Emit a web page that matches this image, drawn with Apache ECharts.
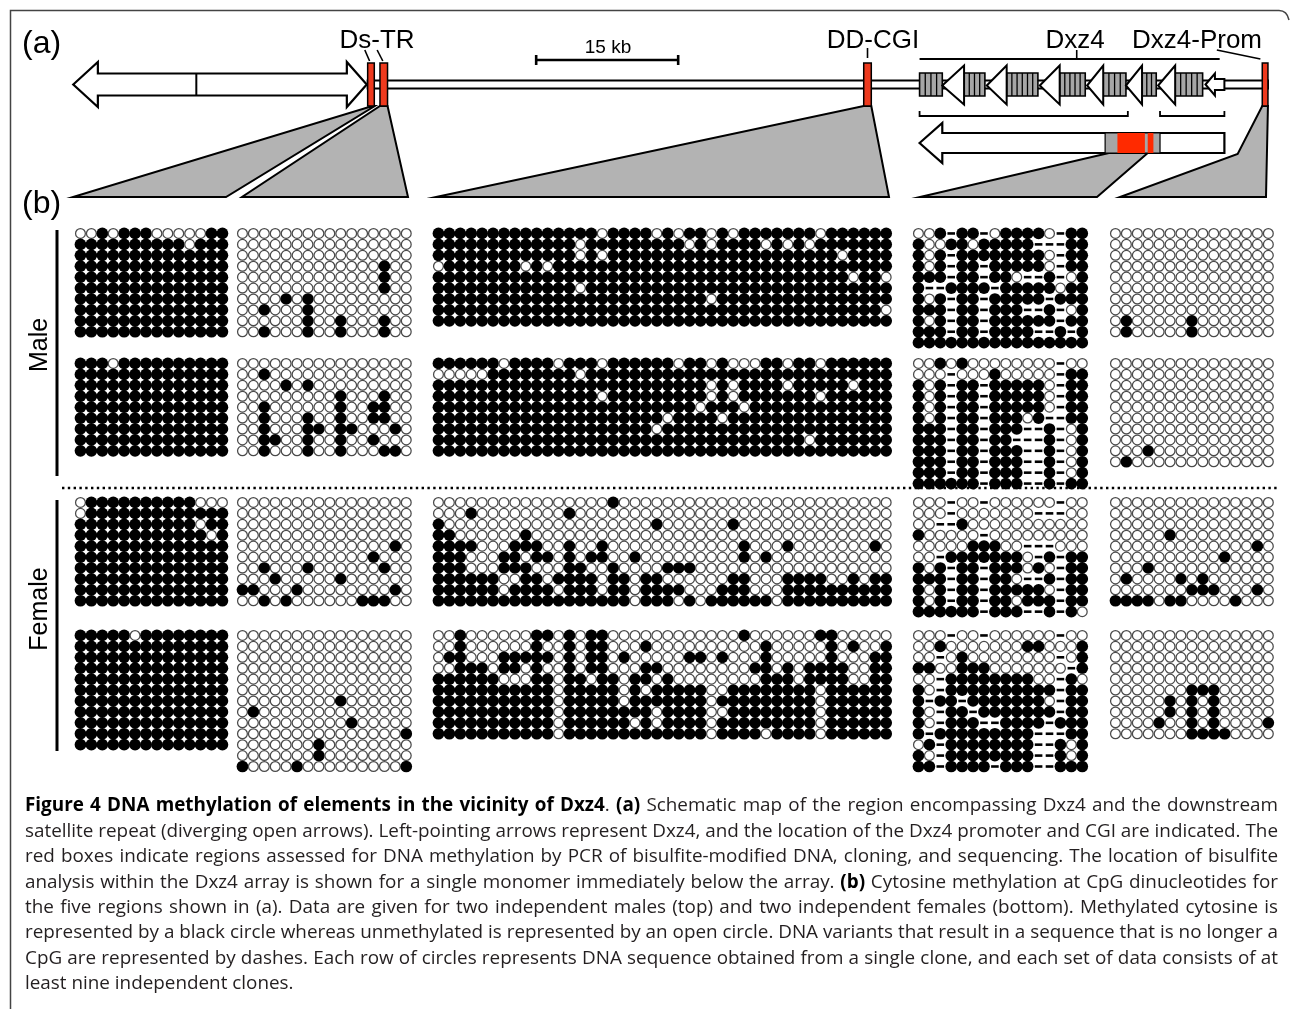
<!DOCTYPE html>
<html>
<head>
<meta charset="utf-8">
<title>Figure 4 DNA methylation of elements in the vicinity of Dxz4</title>
<script src="https://cdn.jsdelivr.net/npm/echarts@6/dist/echarts.min.js"></script>
<style>
html,body{margin:0;padding:0;background:#fff;}
#main{width:1290px;height:1009px;}
</style>
</head>
<body>
<div id="main"></div>
<script>
// ================= DATA =================
// Methylation grids: '1' = methylated CpG (black), '0' = unmethylated (open), '-' = no longer CpG (dash)
// Each region: [male 1, male 2, female 1, female 2]; spaces are only for readability.

const dsTR1 = [
  ["00101110000011","11111111110111","11111111111111","11111111111111","11111111111111",
   "11111111111111","11111111111111","11111111111111","11111111111111","11111111111111"],
  ["11101111111111","11111111111111","11111111111111","11111111111111","11111111111111",
   "11111111111111","11111111111111","11111111111111","11111111111111"],
  ["01111111111000","01111111111111","11111111111011","11111111111101","11111111111111",
   "11111111111111","11111111111111","11111111111111","11111111111111","11111111111111"],
  ["11111011111111","11111111111111","11111111111111","11111111111111","11111111111111",
   "11111111111111","11111111111111","11111111111111","11111111111111","11111111111111",
   "11111111111111"]
];

const dsTR2 = [
  ["0000000000000000","0000000000000000","0000000000000000","0000000000000100","0000000000000100",
   "0000000000000100","0000101000000000","0010001000000000","0000001001000100","0010001001000100"],
  ["0000000000000000","0010000000000000","0000101000000000","0000000001000100","0010000001001100",
   "0010001001001100","0010001101100010","0011001001001000","0010001001000110"],
  ["0000000000000000","0000000000000000","0000000000000000","0000000000000000","0000000000000010",
   "0000000000001000","0010001000000100","0001000001000000","1100010000000010","0010100000011100"],
  ["0000000000000000","0000000000000000","0000000000000000","0000000000000000","0000000000000000",
   "0000000000000000","0000000001000000","0100000000000000","0000000000100000","0000000000000001",
   "0000000100000000","0000000100000000","1000010000000001"]
];

const ddCGI = [
  ["111111 111111 111011 110101 101011 111110 111111",
   "111111 111111 101111 111110 101111 010101 111111",
   "111111 111111 101011 111111 111111 111111 101111",
   "011111 110101 111111 111111 111111 111111 111111",
   "111111 111111 111111 111111 111111 111111 110110",
   "111111 111111 101111 111111 111111 111111 111111",
   "111111 111111 111111 111111 101111 111111 111111",
   "111111 111111 111111 111111 111111 111111 111110",
   "111111 111111 111111 111111 111111 111111 111111"],
  ["111111 011110 111011 111101 101000 110110 111111",
   "000001 111111 101111 111111 111111 111111 111111",
   "111111 111111 111111 111111 101011 110111 110111",
   "111111 111111 111011 111111 101011 111110 111111",
   "111111 111111 111111 111111 011101 111111 111111",
   "111111 111111 111111 111011 110111 111111 111111",
   "111111 111111 111111 110111 111111 111111 111111",
   "111111 111111 111111 111111 111111 111101 111111",
   "111111 111111 111111 111111 111111 111111 111111"],
  ["000000 000000 000010 000000 000000 000000 000000",
   "000100 000000 100000 000000 000000 000000 000000",
   "100000 000000 000000 001000 000100 000000 000000",
   "110000 001000 000000 000000 000000 000000 000000",
   "111100 011100 100100 000000 000010 001000 000010",
   "111000 110110 101100 100000 000010 100000 000000",
   "111000 111000 110010 000111 000000 000000 000000",
   "111111 001101 111011 011000 000110 001111 001011",
   "111111 011110 111011 011110 001110 001111 111111",
   "111111 111111 111111 011101 011111 101111 111111"],
  ["001000 000110 101100 000000 000010 000001 100000",
   "001000 000100 101100 010000 000000 100000 101001",
   "011000 111110 101101 000001 101000 100000 100011",
   "001110 110100 101100 011000 000001 101011 110011",
   "111111 000110 110110 110100 000000 111011 110011",
   "111111 111110 111110 101111 100111 111110 111111",
   "111111 111110 111110 111111 101111 111110 111111",
   "111111 111110 111111 110111 100111 111110 111111",
   "111111 111110 111111 010111 101111 111110 111111",
   "111111 111110 111111 111111 101111 011110 111111"]
];

const dxz4Monomer = [
  ["001-11-011110-11","10011011111---11","101-111111110-11","101-11-111110-11","111-11-110--1-01",
   "1--1111-11111011","101-11-11111-111","111-11-111--1-01","101-11-111111-11","111-11-1111--1-1",
   "1111111111111111"],
  ["0010100000000-00","000-000100000-11","101-11-111110-11","101-11-111110-11","101-11-111110-11",
   "101-11-11101--11","111-11-111--1-01","111-11-11---1-01","111-11-111--1-01","111-11-111--1-01",
   "111-11-111--1-01","111111-111--1-11"],
  ["000-00-000000-00","000-0000000---00","00--100000000000","100000-000000000","0000011100---000",
   "00-11111110-1-11","101-11-111010-11","111-11-110--1-11","101-11-111110-11","101-11-110111-11",
   "111111-111--1-10"],
  ["000-00-000000-00","0010000000110001","00-0100000000-01","11001110000000-1","00-1111111100-10",
   "10-1111111111-11","1-11-11111110-11","10-11-1111111-11","10-111--1111-111","1-111111111---11",
   "01-11111111--101","10-11111111--101","11-1111-111--111"]
];

const dxz4Prom = [
  ["000000000000000","000000000000000","000000000000000","000000000000000","000000000000000",
   "000000000000000","000000000000000","000000000000000","010000010000000","010000010000000"],
  ["000000000000000","000000000000000","000000000000000","000000000000000","000000000000000",
   "000000000000000","000000000000000","000000000000000","000100000000000","010000000000000"],
  ["000000000000000","000000000000000","000000000000000","000001000000000","000000000000010",
   "000000000010000","000100000000000","010000101000000","000000011100010","111101100001000"],
  ["000000000000000","000000000000000","000000000000000","000000000000000","000000000000000",
   "000000011100000","000001010100000","000001010100000","000010010100001","000000011110000"]
];

const regions = [dsTR1, dsTR2, ddCGI, dxz4Monomer, dxz4Prom];
const sampleNames = ["Male", "Male", "Female", "Female"];

// Panel (a) map, positions in kb along the locus (scale bar = 15 kb)
const scaleBarStart = 50.3, scaleBarKb = 15;
const satelliteArrows = { tipL: 1.4, headL: 4.0, divider: 14.4, headR: 30.3, tipR: 32.4 };
const redBoxes = [[32.5, 33.2], [33.8, 34.6], [84.9, 85.7], [127.0, 127.6]];  // Ds-TR (x2), DD-CGI, Dxz4-Prom
const mapLineKb = [32.5, 127.6];
const dxz4Boxes = [[90.8, 93.2], [95.5, 97.7], [100.0, 103.3], [105.6, 108.3], [110.2, 112.6], [114.3, 115.8], [117.8, 120.7]];
const dxz4Heads = [[93.2, 95.5], [97.9, 100.0], [103.5, 105.6], [108.5, 110.2], [112.6, 114.3], [116.0, 117.8]];
const dxz4Stub = [121.0, 122.0, 123.0];
const dxz4Span = [90.8, 122.5], dxz4LabelKb = 107.4;
const monomerArrow = { tip: 90.8, headBase: 93.2, end: 123.0 };
const monomerGrey = [110.4, 116.2];
const monomerRed = [[111.7, 114.6], [114.9, 115.5]];
const monomerBrackets = [[90.8, 112.8], [116.2, 123.0]];
const wedges = [
  { from: [33.0, 33.25], fromY: 106, to: [73, 226] },
  { from: [33.8, 34.6], fromY: 106, to: [242, 408] },
  { from: [84.9, 85.7], fromY: 106, to: [436, 889] },
  { from: [110.8, 114.9], fromY: 153, to: [920, 1097] },
  { from: [127.0, 127.6], fromY: 106, to: [1120, 1266], bend: [124.4, 154] }
];

const captionLines = [
  "**Figure 4 DNA methylation of elements in the vicinity of Dxz4**. **(a)** Schematic map of the region encompassing Dxz4 and the downstream",
  "satellite repeat (diverging open arrows). Left-pointing arrows represent Dxz4, and the location of the Dxz4 promoter and CGI are indicated. The",
  "red boxes indicate regions assessed for DNA methylation by PCR of bisulfite-modified DNA, cloning, and sequencing. The location of bisulfite",
  "analysis within the Dxz4 array is shown for a single monomer immediately below the array. **(b)** Cytosine methylation at CpG dinucleotides for",
  "the five regions shown in (a). Data are given for two independent males (top) and two independent females (bottom). Methylated cytosine is",
  "represented by a black circle whereas unmethylated is represented by an open circle. DNA variants that result in a sequence that is no longer a",
  "CpG are represented by dashes. Each row of circles represents DNA sequence obtained from a single clone, and each set of data consists of at",
  "least nine independent clones."
];

// ================= LAYOUT =================
const CELL = 10.92;
const regionLeft = [75, 237, 433, 913, 1110];
const setTop = [228, 358, 497, 630];
const KB_PX = 142 / 15;
const MAP_LEFT = 60, MAP_W = 1220;
const AX = 84.5;           // centre line of the map
const WEDGE_BOTTOM = 197;
const LABEL_FONT = '"Liberation Sans", Arial, sans-serif';

const grids = [], xAxes = [], yAxes = [], series = [];

grids.push({ left: MAP_LEFT, top: 0, width: MAP_W, height: 1009 });
xAxes.push({ gridIndex: 0, type: 'value', min: 0, max: MAP_W / KB_PX, show: false });
yAxes.push({ gridIndex: 0, type: 'value', min: 0, max: 1009, inverse: true, show: false });

series.push({
  type: 'custom', xAxisIndex: 0, yAxisIndex: 0, silent: true, clip: false, z: 1,
  data: [[0, 0]],
  renderItem: function (params, api) {
    const X = kb => api.coord([kb, 0])[0];
    const Yp = y => api.coord([0, y])[1];
    const P = (kb, y) => [X(kb), Yp(y)];
    const ch = [];
    const line = (x1, y1, x2, y2, w) => ch.push({ type: 'line', shape: { x1, y1, x2, y2 }, style: { stroke: '#000', lineWidth: w || 2 } });
    wedges.forEach(wd => {
      const pts = [P(wd.from[0], wd.fromY), P(wd.from[1], wd.fromY),
                   [wd.to[1], Yp(WEDGE_BOTTOM)], [wd.to[0], Yp(WEDGE_BOTTOM)]];
      if (wd.bend) pts.push(P(wd.bend[0], wd.bend[1]));
      ch.push({ type: 'polygon', shape: { points: pts }, style: { fill: '#b3b3b3', stroke: '#000', lineWidth: 2, lineJoin: 'miter' } });
    });
    ch.push({ type: 'rect', shape: { x: X(mapLineKb[0]), y: Yp(AX - 4), width: X(mapLineKb[1]) - X(mapLineKb[0]), height: 8 },
              style: { fill: '#fff', stroke: '#000', lineWidth: 2 } });
    const s = satelliteArrows;
    ch.push({ type: 'polygon', shape: { points: [
      P(s.tipL, AX), P(s.headL, AX - 22.5), P(s.headL, AX - 11), P(s.headR, AX - 11), P(s.headR, AX - 22.5),
      P(s.tipR, AX), P(s.headR, AX + 22.5), P(s.headR, AX + 11), P(s.headL, AX + 11), P(s.headL, AX + 22.5)] },
      style: { fill: '#fff', stroke: '#000', lineWidth: 2.2, lineJoin: 'miter' } });
    line(X(s.divider), Yp(AX - 11), X(s.divider), Yp(AX + 11), 2);
    dxz4Boxes.forEach(b => {
      const x0 = X(b[0]), x1 = X(b[1]);
      ch.push({ type: 'rect', shape: { x: x0, y: Yp(AX - 11.5), width: x1 - x0, height: 23 },
                style: { fill: '#a6a6a6', stroke: '#000', lineWidth: 1.6 } });
      const n = Math.max(2, Math.round((x1 - x0) / 5.5));
      for (let i = 1; i < n; i++) {
        const xx = x0 + (x1 - x0) * i / n;
        line(xx, Yp(AX - 11.5), xx, Yp(AX + 11.5), 1.3);
      }
    });
    dxz4Heads.forEach(h => {
      ch.push({ type: 'polygon', shape: { points: [P(h[0], AX + 1), P(h[1], AX - 19), P(h[1], AX + 20)] },
                style: { fill: '#fff', stroke: '#000', lineWidth: 2, lineJoin: 'miter' } });
    });
    ch.push({ type: 'polygon', shape: { points: [
      P(dxz4Stub[0], AX), P(dxz4Stub[1], AX - 11), P(dxz4Stub[1], AX - 5.5), P(dxz4Stub[2], AX - 5.5),
      P(dxz4Stub[2], AX + 5.5), P(dxz4Stub[1], AX + 5.5), P(dxz4Stub[1], AX + 11)] },
      style: { fill: '#fff', stroke: '#000', lineWidth: 2, lineJoin: 'miter' } });
    redBoxes.forEach(r => {
      ch.push({ type: 'rect', shape: { x: X(r[0]), y: Yp(63), width: X(r[1]) - X(r[0]), height: 43 },
                style: { fill: '#ee3a1e', stroke: '#000', lineWidth: 1.5 } });
    });
    line(X(32.2), Yp(50), X(32.7), Yp(61), 1.6);
    line(X(33.5), Yp(50), X(34.1), Yp(61), 1.6);
    line(X(85.3), Yp(48), X(85.3), Yp(58), 1.6);
    line(X(dxz4Span[0]), Yp(59), X(dxz4Span[1]), Yp(59), 1.8);
    line(X(dxz4LabelKb), Yp(50), X(dxz4LabelKb), Yp(59), 1.6);
    line(X(122.2), Yp(50), X(126.8), Yp(59), 1.6);
    line(X(scaleBarStart), Yp(60), X(scaleBarStart + scaleBarKb), Yp(60), 2.6);
    line(X(scaleBarStart), Yp(55), X(scaleBarStart), Yp(65), 2.6);
    line(X(scaleBarStart + scaleBarKb), Yp(55), X(scaleBarStart + scaleBarKb), Yp(65), 2.6);
    monomerBrackets.forEach(b => {
      ch.push({ type: 'polyline', shape: { points: [P(b[0], 111), P(b[0], 116), P(b[1], 116), P(b[1], 111)] },
                style: { stroke: '#000', lineWidth: 1.8, fill: null } });
    });
    const m = monomerArrow, MY = 143;
    ch.push({ type: 'polygon', shape: { points: [
      P(m.tip, MY), P(m.headBase, MY - 20), P(m.headBase, MY - 10), P(m.end, MY - 10),
      P(m.end, MY + 10), P(m.headBase, MY + 10), P(m.headBase, MY + 20)] },
      style: { fill: '#fff', stroke: '#000', lineWidth: 2.2, lineJoin: 'miter' } });
    ch.push({ type: 'rect', shape: { x: X(monomerGrey[0]), y: Yp(MY - 10), width: X(monomerGrey[1]) - X(monomerGrey[0]), height: 20 },
              style: { fill: '#a6a6a6', stroke: '#000', lineWidth: 1.2 } });
    monomerRed.forEach(r => {
      ch.push({ type: 'rect', shape: { x: X(r[0]), y: Yp(MY - 10), width: X(r[1]) - X(r[0]), height: 20 },
                style: { fill: '#ff2a00', stroke: null } });
    });
    return { type: 'group', children: ch };
  }
});

// methylation grids
regions.forEach((reg, g) => {
  reg.forEach((rowsRaw, sIdx) => {
    const rows = rowsRaw.map(r => r.replace(/ /g, ''));
    const nR = rows.length, nC = rows[0].length;
    const idx = grids.length;
    grids.push({ left: regionLeft[g], top: setTop[sIdx], width: nC * CELL, height: nR * CELL });
    xAxes.push({ gridIndex: idx, type: 'value', min: -0.5, max: nC - 0.5, show: false });
    yAxes.push({ gridIndex: idx, type: 'value', min: -0.5, max: nR - 0.5, inverse: true, show: false });
    const data = [];
    rows.forEach((row, r) => {
      for (let c = 0; c < row.length; c++) {
        const ch = row[c];
        if (ch === '1') data.push({ value: [c, r], symbol: 'circle', symbolSize: 11.7, itemStyle: { color: '#000', borderWidth: 0, opacity: 1 } });
        else if (ch === '0') data.push({ value: [c, r], symbol: 'circle', symbolSize: 9.8, itemStyle: { color: '#fff', borderColor: '#4a4a4a', borderWidth: 1.25, opacity: 1 } });
        else data.push({ value: [c, r], symbol: 'rect', symbolSize: [7.6, 2.6], itemStyle: { color: '#000', borderWidth: 0, opacity: 1 } });
      }
    });
    series.push({ type: 'scatter', name: sampleNames[sIdx], xAxisIndex: idx, yAxisIndex: idx, data, silent: true, z: 3,
                  itemStyle: { opacity: 1 } });
  });
});

// ================= GRAPHIC (text, frame) =================
const gfx = [];
const txt = (text, x, y, size, opt) => {
  opt = opt || {};
  gfx.push({
    type: 'text', x, y, rotation: opt.rotation || 0, silent: true, z: 10,
    style: { text, font: (opt.bold ? 'bold ' : '') + size + 'px ' + (opt.family || LABEL_FONT), fill: opt.fill || '#000',
             textAlign: opt.align || 'center', textVerticalAlign: 'middle', align: opt.align || 'center', verticalAlign: 'middle' }
  });
};
gfx.push({ type: 'polyline', silent: true, z: 10, shape: { points: [[10.5, 1009], [10.5, 10.5], [1279, 10.5]] }, style: { stroke: '#444', lineWidth: 1.5, fill: null } });
gfx.push({ type: 'bezierCurve', silent: true, z: 10, shape: { x1: 1279, y1: 10.5, x2: 1289, y2: 20, cpx1: 1287, cpy1: 10.5 }, style: { stroke: '#444', lineWidth: 1.5, fill: null } });

txt('(a)', 22, 44, 32, { align: 'left' });
txt('(b)', 22, 204, 32, { align: 'left' });
txt('Ds-TR', 377, 41, 26);
txt('15 kb', 608, 48, 19);
txt('DD-CGI', 873, 41, 26);
txt('Dxz4', 1075, 41, 26);
txt('Dxz4-Prom', 1197, 41, 26);
txt('Male', 40, 345, 25, { rotation: Math.PI / 2 });
txt('Female', 40, 609, 25, { rotation: Math.PI / 2 });
gfx.push({ type: 'line', silent: true, shape: { x1: 57, y1: 230, x2: 57, y2: 476 }, style: { stroke: '#000', lineWidth: 3 } });
gfx.push({ type: 'line', silent: true, shape: { x1: 57, y1: 500, x2: 57, y2: 751 }, style: { stroke: '#000', lineWidth: 3 } });
gfx.push({ type: 'line', silent: true, shape: { x1: 62, y1: 488, x2: 1277, y2: 488 }, style: { stroke: '#000', lineWidth: 2.4, lineDash: [2.4, 3.4] } });

// caption, justified
const CAP_LEFT = 25, CAP_RIGHT = 1278, CAP_Y0 = 806, CAP_DY = 25.4;
const CAP_FAMILY = '"Open Sans", "Noto Sans", sans-serif';
const mctx = document.createElement('canvas').getContext('2d');
const capFont = (b, s) => (b ? 'bold ' : '') + s.toFixed(2) + 'px ' + CAP_FAMILY;
const measure = (t, b, s) => { mctx.font = capFont(b, s); return mctx.measureText(t).width; };
function parseLine(str) {
  const parts = str.split('**'); const words = []; let cur = [];
  parts.forEach((p, i) => {
    const bold = i % 2 === 1;
    p.split(' ').forEach((t, j) => {
      if (j > 0) { if (cur.length) words.push(cur); cur = []; }
      if (t.length) cur.push({ t, bold });
    });
  });
  if (cur.length) words.push(cur);
  return words;
}
const parsed = captionLines.map(parseLine);
const wordW = (wd, s) => wd.reduce((a, p) => a + measure(p.t, p.bold, s), 0);
let capSize = 20;
parsed.slice(0, -1).forEach(words => {
  const nat = words.reduce((a, wd) => a + wordW(wd, capSize), 0) + (words.length - 1) * measure(' ', false, capSize);
  if (nat > (CAP_RIGHT - CAP_LEFT)) capSize *= (CAP_RIGHT - CAP_LEFT) / nat;
});
parsed.forEach((words, li) => {
  const y = CAP_Y0 + li * CAP_DY;
  const widths = words.map(wd => wordW(wd, capSize));
  const total = widths.reduce((a, b) => a + b, 0);
  const justify = li < parsed.length - 1;
  const gap = justify ? (CAP_RIGHT - CAP_LEFT - total) / (words.length - 1) : measure(' ', false, capSize);
  let x = CAP_LEFT;
  words.forEach((wd, wi) => {
    let px = x;
    wd.forEach(p => {
      gfx.push({ type: 'text', x: px, y, silent: true, z: 10,
        style: { text: p.t, font: capFont(p.bold, capSize), fill: p.bold ? '#000' : '#231f20',
                 textAlign: 'left', textVerticalAlign: 'middle', align: 'left', verticalAlign: 'middle' } });
      px += measure(p.t, p.bold, capSize);
    });
    x += widths[wi] + gap;
  });
});

const chart = echarts.init(document.getElementById('main'), null, { renderer: 'canvas' });
chart.setOption({
  animation: false,
  backgroundColor: '#fff',
  grid: grids, xAxis: xAxes, yAxis: yAxes,
  series: series,
  graphic: { elements: gfx }
});
</script>
</body>
</html>
